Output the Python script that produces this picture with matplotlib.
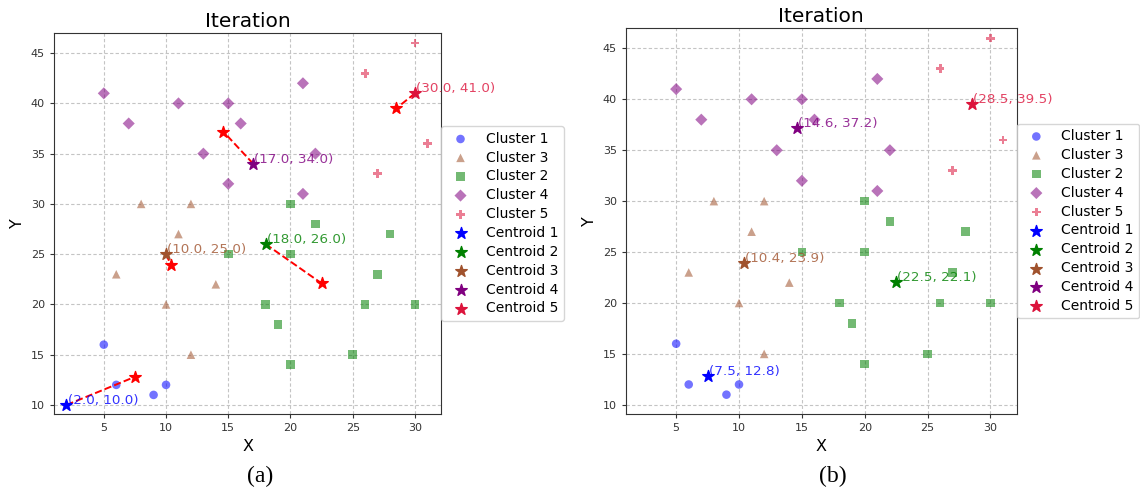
import matplotlib.pyplot as plt

# points of each cluster (same in both panels)
c1_x = [5, 6, 9, 10]
c1_y = [16, 12, 11, 12]
c3_x = [8, 12, 11, 6, 10, 14, 12]
c3_y = [30, 30, 27, 23, 20, 22, 15]
c2_x = [20, 22, 28, 15, 20, 27, 18, 26, 30, 19, 25, 20]
c2_y = [30, 28, 27, 25, 25, 23, 20, 20, 20, 18, 15, 14]
c4_x = [5, 7, 11, 15, 16, 13, 15, 21, 22, 21]
c4_y = [41, 38, 40, 40, 38, 35, 32, 42, 35, 31]
c5_x = [30, 26, 31, 27]
c5_y = [46, 43, 36, 33]

# centroids 1..5 before (a) and after (b) the update
old_cx = [2.0, 18.0, 10.0, 17.0, 30.0]
old_cy = [10.0, 26.0, 25.0, 34.0, 41.0]
new_cx = [7.5, 22.5, 10.4, 14.6, 28.5]
new_cy = [12.8, 22.1, 23.9, 37.2, 39.5]

cluster_names = ["Cluster 1", "Cluster 3", "Cluster 2", "Cluster 4", "Cluster 5"]
cluster_colors = ["blue", "sienna", "green", "purple", "crimson"]
cluster_markers = ["o", "^", "s", "D", "P"]
centroid_names = ["Centroid 1", "Centroid 2", "Centroid 3", "Centroid 4", "Centroid 5"]
centroid_colors = ["blue", "green", "sienna", "purple", "crimson"]


def draw_panel(ax, cx, cy, moved):
    pts = [(c1_x, c1_y), (c3_x, c3_y), (c2_x, c2_y), (c4_x, c4_y), (c5_x, c5_y)]
    for (xs, ys), name, col, mk in zip(pts, cluster_names, cluster_colors, cluster_markers):
        ax.scatter(xs, ys, s=38, c=col, marker=mk, alpha=0.55, edgecolors="none",
                   label=name, zorder=3)
    for i in range(5):
        ax.scatter(cx[i], cy[i], s=75, c=centroid_colors[i], marker="*",
                   label=centroid_names[i], zorder=5)
        ax.text(cx[i] + 0.1, cy[i] + 0.1, "(%.1f, %.1f)" % (cx[i], cy[i]),
                color=centroid_colors[i], alpha=0.8, fontsize=9.7, zorder=6)
        if moved:
            # dashed move to the new centroid
            ax.plot([cx[i], new_cx[i]], [cy[i], new_cy[i]], "r--", lw=1.4, zorder=4)
            ax.scatter(new_cx[i], new_cy[i], s=75, c="red", marker="*", zorder=5)

    ax.set_xlim(1.0, 32.1)
    ax.set_ylim(9.1, 47.0)
    ax.set_xticks([5, 10, 15, 20, 25, 30])
    ax.set_yticks([10, 15, 20, 25, 30, 35, 40, 45])
    ax.grid(True, linestyle=(0, (3, 2)), color="#c4c4c4", linewidth=0.8)
    ax.set_axisbelow(True)
    ax.tick_params(labelsize=8, labelcolor="#333333", color="#333333", length=3)
    for sp in ax.spines.values():
        sp.set_color("#333333")
    ax.set_title("Iteration", fontsize=14.5, pad=4.5)
    ax.set_xlabel("X", fontsize=11.5)
    ax.set_ylabel("Y", fontsize=11.5)
    leg = ax.legend(loc="center left", bbox_to_anchor=(1, 0.5), borderaxespad=0,
                    fontsize=10, labelspacing=0.35)
    leg.set_zorder(10)


fig = plt.figure(figsize=(11.4, 4.92), dpi=100)
ax1 = fig.add_axes([0.0474, 0.1585, 0.3395, 0.7744])
ax2 = fig.add_axes([0.549, 0.1585, 0.343, 0.7846])

draw_panel(ax1, old_cx, old_cy, True)
draw_panel(ax2, new_cx, new_cy, False)

fig.text(260 / 1140, 1 - 476 / 492, "(a)", fontsize=17, family="Liberation Serif",
         ha="center", va="center")
fig.text(833 / 1140, 1 - 476 / 492, "(b)", fontsize=17, family="Liberation Serif",
         ha="center", va="center")

fig.savefig("out.png", dpi=100)
